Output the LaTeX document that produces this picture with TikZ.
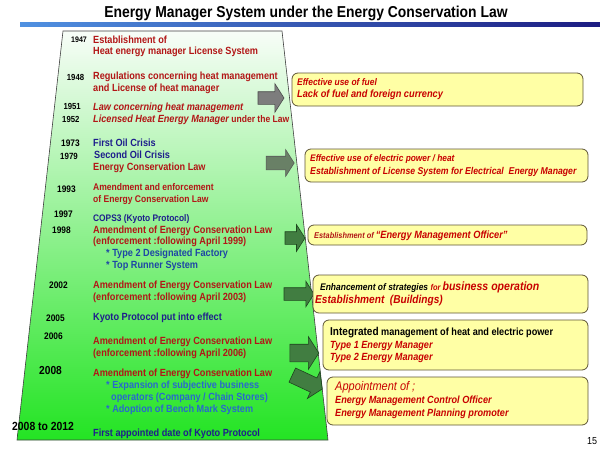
\documentclass[tikz,border=0pt]{standalone}
\usepackage{fontspec}
\setmainfont{Liberation Sans}[FakeStretch=0.88]
\usetikzlibrary{shapes.arrows}
\definecolor{tred}{RGB}{178,22,22}
\definecolor{bred}{RGB}{200,0,0}
\definecolor{tnavy}{RGB}{30,30,140}
\definecolor{tblueb}{RGB}{30,70,165}
\definecolor{tbluec}{RGB}{40,105,205}
\definecolor{boxfill}{RGB}{255,255,165}
\definecolor{boxline}{RGB}{95,85,55}
\definecolor{garrow}{RGB}{65,125,65}
\definecolor{garrowline}{RGB}{30,70,30}
\definecolor{grayarrow}{RGB}{125,125,125}
\definecolor{ggarrow}{RGB}{105,128,102}
\definecolor{trtop}{RGB}{248,253,248}
\definecolor{trmid}{RGB}{165,243,165}
\definecolor{trbot}{RGB}{35,228,35}
\definecolor{barl}{RGB}{80,145,225}
\definecolor{barm}{RGB}{40,95,205}
\definecolor{barr}{RGB}{28,28,130}
\newcommand\fsz[1]{\fontsize{#1}{#1}\selectfont}
\tikzset{
 lbl/.style={anchor=mid west, inner sep=0pt, font=\bfseries\fsz{10.4}},
 lred/.style={lbl,text=tred},
 lnavy/.style={lbl,text=tnavy},
 yr/.style={lbl,text=black,font=\bfseries\fsz{9.5}},
 ybox/.style={draw=boxline, line width=0.8pt, fill=boxfill, rounded corners=6pt, inner sep=0pt},
 btxt/.style={lbl,text=bred,font=\bfseries\itshape\fsz{10.4}},
 barrow/.style={single arrow, inner xsep=0pt, single arrow tip angle=115, line width=0.6pt},
 grarrow/.style={barrow, fill=garrow, draw=garrowline},
}
\begin{document}
\begin{tikzpicture}[x=1pt,y=-1pt]
\useasboundingbox (0,0) rectangle (600,450);
% title
\node[inner sep=0pt, font=\bfseries\fsz{15.8}] (title) at (306,13) {Energy Manager System under the Energy Conservation Law};
\shade[left color=barl, middle color=barm, right color=barr] (20,22.5) rectangle (600,26.5);
% trapezoid
\shadedraw[top color=trtop, middle color=trmid, bottom color=trbot, draw=black!75, line width=0.6pt]
  (63,31) -- (282,31) -- (328,440) -- (17,440) -- cycle;
% years
\node[yr, font=\bfseries\fsz{8}] (y1947) at (71,39.5) {1947};
\node[yr, font=\bfseries\fsz{8.8}] (y1948) at (66.7,78) {1948};
\node[yr, font=\bfseries\fsz{8.8}] (y1951) at (63.3,107) {1951};
\node[yr, font=\bfseries\fsz{8.8}] (y1952) at (62,119.5) {1952};
\node[yr] (y1973) at (61,144) {1973};
\node[yr, font=\bfseries\fsz{9}] (y1979) at (60,157) {1979};
\node[yr] (y1993) at (57,190) {1993};
\node[yr] (y1997) at (54,215) {1997};
\node[yr] (y1998) at (52,231) {1998};
\node[yr] (y2002) at (49,286) {2002};
\node[yr] (y2005) at (46,318.5) {2005};
\node[yr] (y2006) at (44,337) {2006};
\node[yr, font=\bfseries\fsz{11.6}] (y2008) at (39,372) {2008};
\node[yr, font=\bfseries\fsz{11.8}] (y2012) at (12,428) {2008 to 2012};
% left texts
\node[lred] (t1a) at (93,40.5) {Establishment of};
\node[lred] (t1b) at (93,52) {Heat energy manager License System};
\node[lred] (t2a) at (93,77) {Regulations concerning heat management};
\node[lred] (t2b) at (93,88.5) {and License of heat manager};
\node[lred, font=\bfseries\itshape\fsz{10.4}] (t3a) at (93,108) {Law concerning heat management};
\node[lred] (t3b) at (93,120) {\itshape Licensed Heat Energy Manager\upshape\fsz{9.7} under the Law};
\node[lnavy] (t4a) at (93,144) {First Oil Crisis};
\node[lnavy] (t4b) at (94,156) {Second Oil Crisis};
\node[lred] (t4c) at (93,168) {Energy Conservation Law};
\node[lred, font=\bfseries\fsz{9.7}] (t5a) at (93,188) {Amendment and enforcement};
\node[lred, font=\bfseries\fsz{9.7}] (t5b) at (93,199.5) {of Energy Conservation Law};
\node[lnavy, font=\bfseries\fsz{9.5}] (t6a) at (93,219) {COPS3 (Kyoto Protocol)};
\node[lred] (t6b) at (93,230.5) {Amendment of Energy Conservation Law};
\node[lred] (t6c) at (93,242) {(enforcement :following April 1999)};
\node[lbl, text=tblueb] (t6d) at (106,254) {* Type 2 Designated Factory};
\node[lbl, text=tblueb] (t6e) at (106,266) {* Top Runner System};
\node[lred] (t7a) at (93,286) {Amendment of Energy Conservation Law};
\node[lred] (t7b) at (93,297.5) {(enforcement :following April 2003)};
\node[lnavy] (t8a) at (93,318) {Kyoto Protocol put into effect};
\node[lred] (t9a) at (93,342) {Amendment of Energy Conservation Law};
\node[lred] (t9b) at (93,353.5) {(enforcement :following April 2006)};
\node[lred] (t10a) at (93,374) {Amendment of Energy Conservation Law};
\node[lbl, text=tbluec] (t10b) at (106,386) {* Expansion of subjective business};
\node[lbl, text=tbluec] (t10c) at (111,397.5) {operators (Company / Chain Stores)};
\node[lbl, text=tbluec] (t10d) at (106,409.5) {* Adoption of Bench Mark System};
\node[lnavy] (t11a) at (93,434) {First appointed date of Kyoto Protocol};
% arrows
\node[barrow, fill=grayarrow, draw=black!70, minimum height=26pt, inner ysep=6pt, single arrow head extend=8pt] (a1) at (269,98) {};
\node[barrow, fill=ggarrow, draw=black!65, minimum height=28pt, inner ysep=6.5pt, single arrow head extend=6.5pt] (a2) at (278,163) {};
\node[grarrow, minimum height=20pt, inner ysep=6pt, single arrow head extend=7pt] (a3) at (293,238) {};
\node[grarrow, minimum height=30pt, inner ysep=6pt, single arrow head extend=6.5pt] (a4) at (297,294) {};
\node[grarrow, minimum height=29pt, inner ysep=8.5pt, single arrow head extend=7.5pt] (a5) at (301.5,353) {};
\node[grarrow, minimum height=33pt, inner ysep=7.5pt, single arrow head extend=7pt, rotate=-25] (a6) at (305,381) {};
% boxes
\node[ybox, minimum width=291pt, minimum height=33pt] (b1) at (437.5,89.5) {};
\node[ybox, minimum width=283pt, minimum height=33pt] (b2) at (446.5,165.5) {};
\node[ybox, minimum width=279pt, minimum height=20pt] (b3) at (447.5,235) {};
\node[ybox, minimum width=275pt, minimum height=38pt] (b4) at (450.5,294) {};
\node[ybox, minimum width=265pt, minimum height=50pt] (b5) at (455.5,345) {};
\node[ybox, minimum width=261pt, minimum height=48pt] (b6) at (457.5,401) {};
% box texts
\node[btxt, font=\bfseries\itshape\fsz{9.6}] (c1a) at (297,83) {Effective use of fuel};
\node[btxt, font=\bfseries\itshape\fsz{10.5}] (c1b) at (297,95) {Lack of fuel and foreign currency};
\node[btxt, font=\bfseries\itshape\fsz{9.5}] (c2a) at (310,159) {Effective use of electric power / heat};
\node[btxt, font=\bfseries\itshape\fsz{9.9}] (c2b) at (310,171.5) {Establishment of License System for Electrical\ \ Energy Manager};
\node[btxt] (c3a) at (314,236) {{\color{tred}\fsz{8.4}Establishment of }{\fsz{10.5}“Energy Management Officer”}};
\node[btxt] (c4a) at (320,288) {{\color{black}\fsz{9.6}Enhancement of strategies }{\fsz{8.5}for }{\fsz{12}business operation}};
\node[btxt, font=\bfseries\itshape\fsz{11.5}] (c4b) at (315,300.5) {Establishment\ \ (Buildings)};
\node[lbl, text=black] (c5a) at (330,333) {{\fsz{11.4}Integrated}{\fsz{10.4} management of heat and electric power}};
\node[btxt] (c5b) at (330,346) {Type 1 Energy Manager};
\node[btxt] (c5c) at (330,357.5) {Type 2 Energy Manager};
\node[btxt, font=\itshape\fsz{12.5}] (c6a) at (335,388) {Appointment of ;};
\node[btxt] (c6b) at (335,401) {Energy Management Control Officer};
\node[btxt] (c6c) at (335,414) {Energy Management Planning promoter};
% page number
\node[lbl, font=\fsz{10.2}] (pg) at (587,441.5) {15};
\end{tikzpicture}
\end{document}
